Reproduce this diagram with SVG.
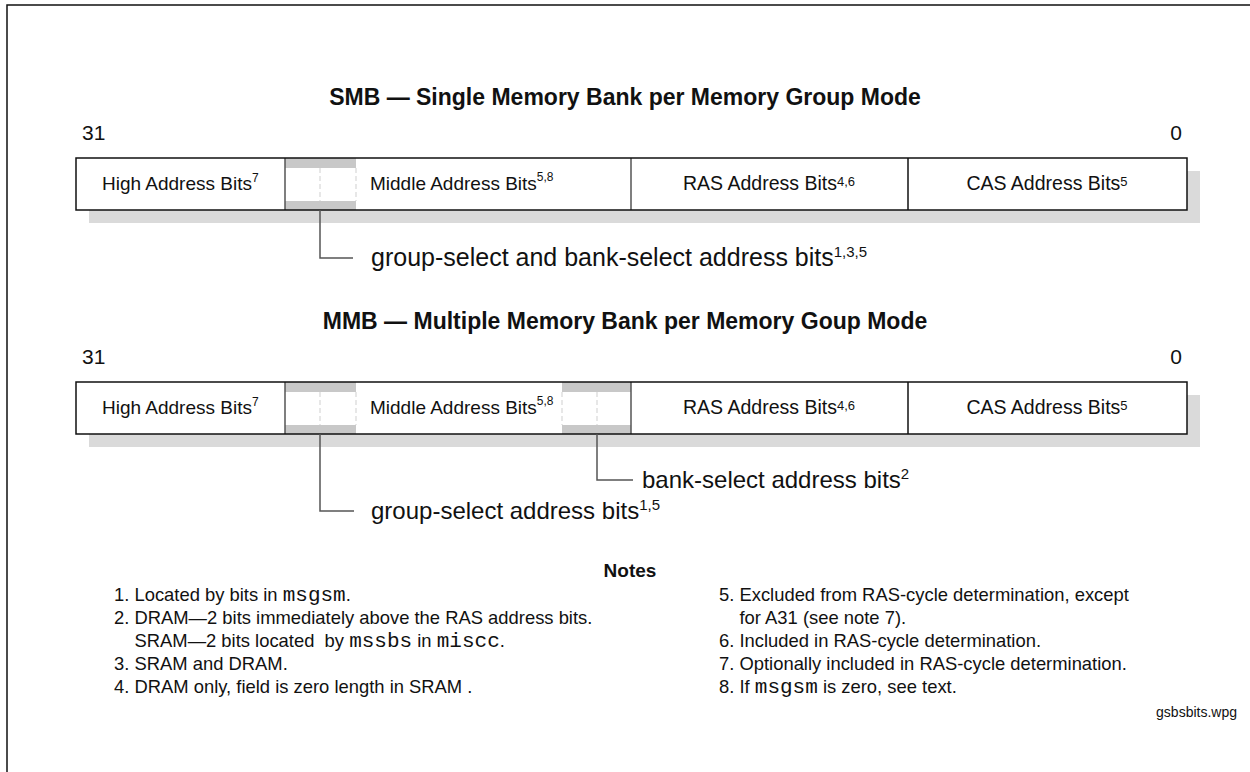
<svg xmlns="http://www.w3.org/2000/svg" width="1250" height="772" viewBox="0 0 1250 772">
<style>
.t{font-family:"Liberation Sans",Arial,sans-serif;fill:#111}
.b{font-weight:bold}
.m{font-family:"Liberation Mono","Courier New",monospace}
.lbl{font-size:19.5px}
.nar{font-size:19px}
.cl{font-size:24px}
.nt{font-size:18.4px}
.mono{font-size:21px}
.sh{fill:#dadada}
.bg{fill:#fff}
.ol{fill:none;stroke:#111;stroke-width:1.5}
.bar{fill:#c8c8c8}
.dv{stroke:#555;stroke-width:1.5}
.dvd{stroke:#111;stroke-width:1.5}
.dash{stroke:#cfcfcf;stroke-width:1;stroke-dasharray:5 3}
.conn{fill:none;stroke:#555;stroke-width:1.5}
.frame{fill:none;stroke:#111;stroke-width:1.5}
</style>
<path class="frame" d="M7,772 V5 H1250"/>

<g id="smb">
<text class="t b" x="625" y="105" font-size="23" text-anchor="middle">SMB — Single Memory Bank per Memory Group Mode</text>
<text class="t" x="82" y="140" font-size="21">31</text>
<text class="t" x="1182" y="140" font-size="21" text-anchor="end">0</text>
<rect class="sh" x="89" y="171" width="1111" height="52"/>
<rect class="bg" x="76" y="158" width="1111" height="52"/>
<rect class="bar" x="285" y="158" width="71" height="10"/>
<rect class="bar" x="285" y="201" width="71" height="9"/>
<line class="dash" x1="320" y1="168" x2="320" y2="201"/>
<line class="dash" x1="356" y1="168" x2="356" y2="201"/>
<line class="dv" x1="285" y1="158" x2="285" y2="210"/>
<line class="dv" x1="631" y1="158" x2="631" y2="210"/>
<line class="dvd" x1="908" y1="158" x2="908" y2="210"/>
<rect class="ol" x="76" y="158" width="1111" height="52"/>
<text class="t nar" x="102" y="190">High Address Bits<tspan font-size="12" dy="-8">7</tspan></text>
<text class="t nar" x="370" y="190">Middle Address Bits<tspan font-size="12" dy="-9">5,8</tspan></text>
<text class="t lbl" x="769" y="190" text-anchor="middle">RAS Address Bits<tspan font-size="13" dy="-4.5">4,6</tspan></text>
<text class="t lbl" x="1047" y="190" text-anchor="middle">CAS Address Bits<tspan font-size="13" dy="-4.5">5</tspan></text>
</g>

<g id="mmb">
<text class="t b" x="625" y="329" font-size="23" text-anchor="middle">MMB — Multiple Memory Bank per Memory Goup Mode</text>
<text class="t" x="82" y="364" font-size="21">31</text>
<text class="t" x="1182" y="364" font-size="21" text-anchor="end">0</text>
<rect class="sh" x="89" y="395" width="1111" height="52"/>
<rect class="bg" x="76" y="382" width="1111" height="52"/>
<rect class="bar" x="285" y="382" width="71" height="10"/>
<rect class="bar" x="285" y="425" width="71" height="9"/>
<rect class="bar" x="562" y="382" width="69" height="10"/>
<rect class="bar" x="562" y="425" width="69" height="9"/>
<line class="dash" x1="320" y1="392" x2="320" y2="425"/>
<line class="dash" x1="356" y1="392" x2="356" y2="425"/>
<line class="dash" x1="562" y1="392" x2="562" y2="425"/>
<line class="dash" x1="597" y1="392" x2="597" y2="425"/>
<line class="dv" x1="285" y1="382" x2="285" y2="434"/>
<line class="dv" x1="631" y1="382" x2="631" y2="434"/>
<line class="dvd" x1="908" y1="382" x2="908" y2="434"/>
<rect class="ol" x="76" y="382" width="1111" height="52"/>
<text class="t nar" x="102" y="414">High Address Bits<tspan font-size="12" dy="-8">7</tspan></text>
<text class="t nar" x="370" y="414">Middle Address Bits<tspan font-size="12" dy="-9">5,8</tspan></text>
<text class="t lbl" x="769" y="414" text-anchor="middle">RAS Address Bits<tspan font-size="13" dy="-4.5">4,6</tspan></text>
<text class="t lbl" x="1047" y="414" text-anchor="middle">CAS Address Bits<tspan font-size="13" dy="-4.5">5</tspan></text>
</g>

<g id="connectors">
<path class="conn" d="M320,210 V258 H353"/>
<path class="conn" d="M597,434 V480 H633"/>
<path class="conn" d="M320,434 V511 H354"/>
</g>

<g id="conn-labels">
<text class="t" x="371" y="266" font-size="25">group-select and bank-select address bits<tspan font-size="15" dy="-9">1,3,5</tspan></text>
<text class="t cl" x="642" y="488">bank-select address bits<tspan font-size="15" dy="-9">2</tspan></text>
<text class="t cl" x="371" y="519">group-select address bits<tspan font-size="15" dy="-9">1,5</tspan></text>
</g>

<g id="notes">
<text class="t b" x="630" y="577" font-size="19" text-anchor="middle">Notes</text>
<text class="t nt" x="114" y="601">1. Located by bits in <tspan class="m mono">msgsm</tspan>.</text>
<text class="t nt" x="114" y="624">2. DRAM—2 bits immediately above the RAS address bits.</text>
<text class="t nt" x="134.5" y="647" xml:space="preserve">SRAM—2 bits located  by <tspan class="m mono">mssbs</tspan> in <tspan class="m mono">miscc</tspan>.</text>
<text class="t nt" x="114" y="670">3. SRAM and DRAM.</text>
<text class="t nt" x="114" y="693">4. DRAM only, field is zero length in SRAM .</text>
<text class="t nt" x="719" y="601">5. Excluded from RAS-cycle determination, except</text>
<text class="t nt" x="739.5" y="624">for A31 (see note 7).</text>
<text class="t nt" x="719" y="647">6. Included in RAS-cycle determination.</text>
<text class="t nt" x="719" y="670">7. Optionally included in RAS-cycle determination.</text>
<text class="t nt" x="719" y="693">8. If <tspan class="m mono">msgsm</tspan> is zero, see text.</text>
<text class="t" x="1237" y="717" font-size="14" text-anchor="end">gsbsbits.wpg</text>
</g>
</svg>
